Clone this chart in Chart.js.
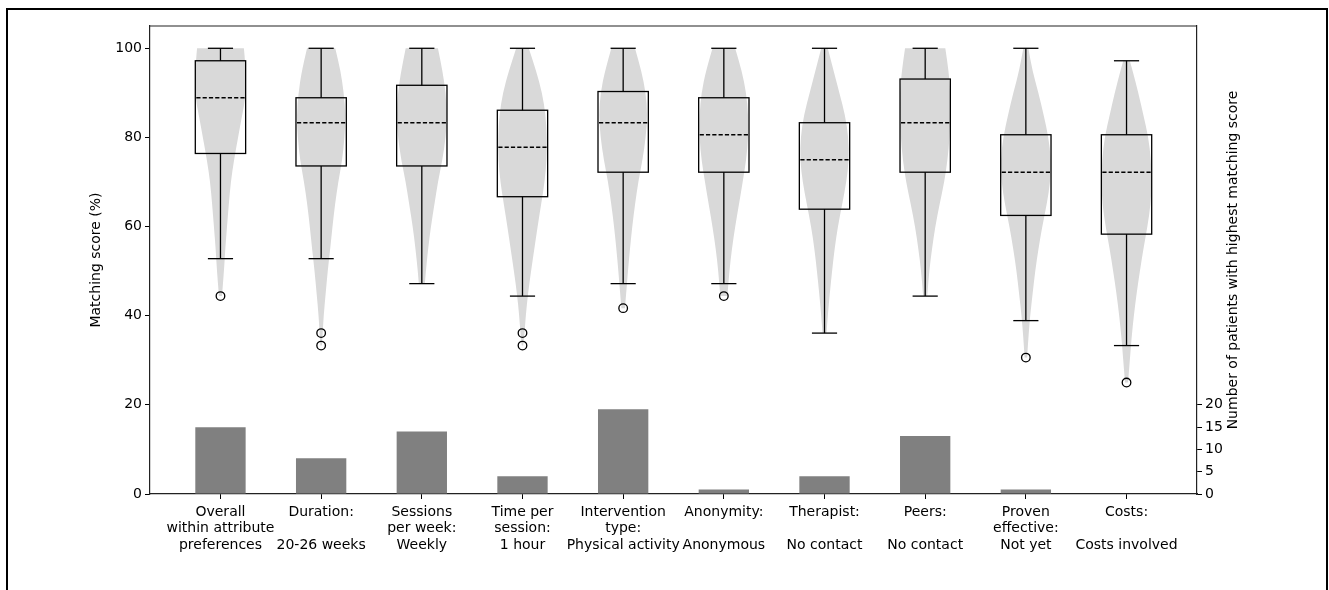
<!DOCTYPE html>
<html lang="en">
<head>
<meta charset="UTF-8">
<title>Matching score</title>
<script src="https://cdn.jsdelivr.net/npm/chart.js@4/dist/chart.umd.min.js"></script>
<style>
  body { margin: 0; background: #fff; }
  #contenedor { position: relative; width: 1329px; height: 590px; overflow: hidden; background: #fff; }
  #marco { position: absolute; left: 6px; top: 8px; width: 1322px; height: 620px; border: 2px solid #000; box-sizing: border-box; pointer-events: none; }
</style>
</head>
<body>
<div id="contenedor">
  <canvas id="grafico" width="1329" height="590"></canvas>
  <div id="marco"></div>
</div>
<script>
// Categorías del eje X (tres líneas cada una)
const categorias = [
  ['Overall', 'within attribute', 'preferences'],
  ['Duration:', '', '20-26 weeks'],
  ['Sessions', 'per week:', 'Weekly'],
  ['Time per', 'session:', '1 hour'],
  ['Intervention', 'type:', 'Physical activity'],
  ['Anonymity:', '', 'Anonymous'],
  ['Therapist:', '', 'No contact'],
  ['Peers:', '', 'No contact'],
  ['Proven', 'effective:', 'Not yet'],
  ['Costs:', '', 'Costs involved']
];

// Estadísticos de las cajas (puntaje %)
const bigoteInferior = [52.8, 52.8, 47.2, 44.4, 47.2, 47.2, 36.1, 44.4, 38.9, 33.3];
const cuartil1 = [76.4, 73.6, 73.6, 66.7, 72.2, 72.2, 63.9, 72.2, 62.5, 58.3];
const mediana = [88.9, 83.3, 83.3, 77.8, 83.3, 80.6, 75.0, 83.3, 72.2, 72.2];
const cuartil3 = [97.2, 88.9, 91.7, 86.1, 90.3, 88.9, 83.3, 93.1, 80.6, 80.6];
const bigoteSuperior = [100, 100, 100, 100, 100, 100, 100, 100, 100, 97.2];
const atipicos = [[44.4], [36.1, 33.3], [], [36.1, 33.3], [41.7], [44.4], [], [], [30.6], [25.0]];

// Pacientes con el mayor puntaje (barras, eje derecho)
const pacientes = [15, 8, 14, 4, 19, 1, 4, 13, 1, 0];

// Perfil de cada violín: [puntaje, densidad relativa]
const perfilesViolin = [
  [[100, .93], [97, .98], [93, 1], [89, 1], [85, .86], [80, .7], [75, .54], [70, .41], [65, .33], [60, .26], [55, .19], [50, .14], [44.4, .06]],
  [[100, .56], [95, .77], [90, .9], [85, .97], [80, .93], [75, .84], [70, .68], [65, .55], [60, .45], [55, .36], [50, .26], [45, .18], [40, .1], [35, .05], [33.3, .03]],
  [[100, .64], [95, .82], [90, .95], [85, 1], [80, .95], [75, .82], [70, .64], [65, .5], [60, .36], [55, .25], [50, .16], [47.2, .12]],
  [[100, .25], [95, .54], [90, .78], [85, .92], [80, .97], [75, .96], [70, .88], [65, .74], [60, .6], [55, .47], [50, .34], [45, .22], [40, .13], [36, .08], [33.3, .03]],
  [[100, .47], [95, .72], [90, .9], [85, .96], [80, .9], [75, .77], [70, .6], [65, .47], [60, .36], [55, .27], [50, .19], [45, .12], [41.7, .07]],
  [[100, .45], [95, .71], [90, .89], [85, .97], [80, .97], [75, .89], [70, .75], [65, .6], [60, .45], [55, .32], [50, .22], [45, .15], [44.4, .14]],
  [[100, .13], [95, .36], [90, .59], [85, .82], [80, .95], [75, .97], [70, .87], [65, .7], [60, .53], [55, .4], [50, .3], [45, .21], [40, .13], [36.1, .08]],
  [[100, .8], [95, .93], [90, 1], [85, 1], [80, .97], [75, .89], [70, .76], [65, .57], [60, .4], [55, .27], [50, .16], [45, .09], [44.4, .08]],
  [[100, .1], [95, .26], [90, .5], [85, .71], [80, .9], [75, 1], [70, .97], [65, .83], [60, .65], [55, .5], [50, .37], [45, .27], [40, .17], [35, .1], [30.6, .05]],
  [[97.2, .13], [95, .24], [90, .47], [85, .67], [80, .87], [75, .97], [70, 1], [65, .96], [60, .83], [55, .67], [50, .53], [45, .4], [40, .29], [35, .2], [30, .13], [25, .06]]
];

// Marcas de los ejes
const ticksPuntaje = [0, 20, 40, 60, 80, 100];
const ticksPacientes = [0, 5, 10, 15, 20];
const tituloDerecho = 'Number of patients with highest matching score';

const MEDIO_VIOLIN = 0.25;
const MEDIA_CAJA = 0.25;
const MEDIA_TAPA = 0.125;

Chart.defaults.font.family = 'DejaVu Sans';
Chart.defaults.font.size = 14;
Chart.defaults.color = '#000';

// Trazo suavizado de un lado del violín
function trazarSuave(ctx, pts, mover) {
  if (mover) ctx.moveTo(pts[0][0], pts[0][1]);
  else ctx.lineTo(pts[0][0], pts[0][1]);
  for (let k = 1; k < pts.length - 1; k++) {
    const mx = (pts[k][0] + pts[k + 1][0]) / 2;
    const my = (pts[k][1] + pts[k + 1][1]) / 2;
    ctx.quadraticCurveTo(pts[k][0], pts[k][1], mx, my);
  }
  const u = pts[pts.length - 1];
  ctx.lineTo(u[0], u[1]);
}

function linea(ctx, x1, y1, x2, y2) {
  ctx.beginPath();
  ctx.moveTo(x1, y1);
  ctx.lineTo(x2, y2);
  ctx.stroke();
}

// Plugin: violines debajo, cajas y bigotes encima
const pluginCajas = {
  id: 'cajasViolines',
  beforeDatasetsDraw(chart) {
    const {ctx, scales: {x, y}} = chart;
    ctx.save();
    ctx.fillStyle = '#d9d9d9';
    perfilesViolin.forEach((perfil, i) => {
      const izq = perfil.map(([v, w]) => [x.getPixelForValue(i - w * MEDIO_VIOLIN), y.getPixelForValue(v)]);
      const der = perfil.map(([v, w]) => [x.getPixelForValue(i + w * MEDIO_VIOLIN), y.getPixelForValue(v)]).reverse();
      ctx.beginPath();
      trazarSuave(ctx, izq, true);
      trazarSuave(ctx, der, false);
      ctx.closePath();
      ctx.fill();
    });
    ctx.restore();
  },
  afterDatasetsDraw(chart) {
    const {ctx, chartArea, scales: {x, y}} = chart;
    ctx.save();
    ctx.strokeStyle = '#000';
    ctx.lineWidth = 1.3;
    categorias.forEach((c, i) => {
      const xc = x.getPixelForValue(i);
      const xl = x.getPixelForValue(i - MEDIA_CAJA);
      const xr = x.getPixelForValue(i + MEDIA_CAJA);
      const tl = x.getPixelForValue(i - MEDIA_TAPA);
      const tr = x.getPixelForValue(i + MEDIA_TAPA);
      const yMin = y.getPixelForValue(bigoteInferior[i]);
      const yQ1 = y.getPixelForValue(cuartil1[i]);
      const yMed = y.getPixelForValue(mediana[i]);
      const yQ3 = y.getPixelForValue(cuartil3[i]);
      const yMax = y.getPixelForValue(bigoteSuperior[i]);
      ctx.lineWidth = 1.3;
      ctx.strokeRect(xl, yQ3, xr - xl, yQ1 - yQ3);
      linea(ctx, xc, yQ3, xc, yMax);
      linea(ctx, tl, yMax, tr, yMax);
      linea(ctx, xc, yQ1, xc, yMin);
      linea(ctx, tl, yMin, tr, yMin);
      ctx.lineWidth = 1.6;
      ctx.setLineDash([4.2, 2.1]);
      linea(ctx, xl + 1, yMed, xr - 1, yMed);
      ctx.setLineDash([]);
    });
    // borde superior del área
    ctx.strokeStyle = '#222';
    ctx.lineWidth = 1.2;
    linea(ctx, chartArea.left, chartArea.top, chartArea.right, chartArea.top);
    ctx.restore();
  },
  afterDraw(chart) {
    // título del eje derecho, leído de abajo hacia arriba
    const {ctx, chartArea, scales: {y2}} = chart;
    ctx.save();
    ctx.translate(y2.right - 8.4, (chartArea.top + chartArea.bottom) / 2);
    ctx.rotate(-Math.PI / 2);
    ctx.font = '14px "DejaVu Sans"';
    ctx.fillStyle = '#000';
    ctx.textAlign = 'center';
    ctx.textBaseline = 'middle';
    ctx.fillText(tituloDerecho, 0, 0);
    ctx.restore();
  }
};

const puntosAtipicos = [];
atipicos.forEach((lista, i) => lista.forEach(v => puntosAtipicos.push({x: i, y: v})));

const ejeGrid = {drawOnChartArea: false, tickLength: 5, color: '#000', offset: false};
const ejeBorde = {color: '#222', width: 1.2};

new Chart(document.getElementById('grafico'), {
  type: 'bar',
  data: {
    datasets: [
      {
        type: 'scatter',
        data: puntosAtipicos,
        yAxisID: 'y',
        pointRadius: 4.3,
        borderWidth: 1.3,
        borderColor: '#000',
        backgroundColor: 'rgba(0,0,0,0)'
      },
      {
        type: 'bar',
        data: pacientes.map((v, i) => ({x: i, y: v})),
        yAxisID: 'y2',
        backgroundColor: '#808080',
        borderWidth: 0,
        barPercentage: 0.5,
        categoryPercentage: 1
      }
    ]
  },
  options: {
    responsive: false,
    animation: false,
    devicePixelRatio: 1,
    layout: {padding: {left: 88, right: 87, top: 26, bottom: 0}},
    plugins: {legend: {display: false}, tooltip: {enabled: false}},
    scales: {
      x: {
        type: 'linear',
        min: -0.7,
        max: 9.7,
        offset: false,
        afterBuildTicks: (eje) => { eje.ticks = categorias.map((c, i) => ({value: i})); },
        afterFit: (eje) => { eje.height = 96; },
        ticks: {callback: (v) => categorias[v], autoSkip: false, maxRotation: 0, padding: 4.5},
        grid: ejeGrid,
        border: ejeBorde
      },
      y: {
        position: 'left',
        min: 0,
        max: 105,
        afterBuildTicks: (eje) => { eje.ticks = ticksPuntaje.map(v => ({value: v})); },
        afterFit: (eje) => { eje.width = 62; },
        title: {display: true, text: 'Matching score (%)', padding: 0},
        ticks: {padding: 3},
        grid: ejeGrid,
        border: ejeBorde
      },
      y2: {
        position: 'right',
        min: 0,
        max: 105,
        afterBuildTicks: (eje) => { eje.ticks = ticksPacientes.map(v => ({value: v})); },
        afterFit: (eje) => { eje.width = 45; },
        ticks: {padding: 3},
        grid: ejeGrid,
        border: ejeBorde
      }
    }
  },
  plugins: [pluginCajas]
});
</script>
</body>
</html>
